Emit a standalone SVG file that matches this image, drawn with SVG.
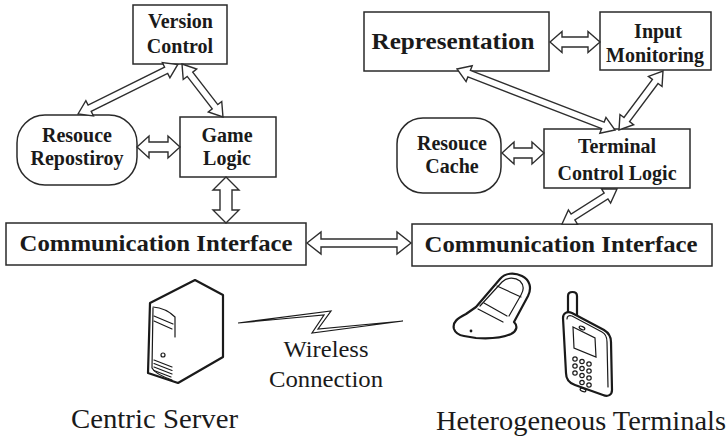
<svg xmlns="http://www.w3.org/2000/svg" width="728" height="438" viewBox="0 0 728 438">
  <style>
    .box { fill: #ffffff; stroke: #2a2a2a; stroke-width: 1.5; }
    .lbl { font-family: 'Liberation Serif', 'Times New Roman', serif; font-weight: bold; font-size: 20px; fill: #1a1a1a; text-anchor: middle; }
    .big { font-size: 24px; }
    .cap { font-family: 'Liberation Serif', 'Times New Roman', serif; font-size: 24px; fill: #1a1a1a; text-anchor: middle; }
    .title { font-size: 28px; }
    .dbl { fill: #ffffff; stroke: #2e2e2e; stroke-width: 1.4; stroke-linejoin: miter; }
    .ico { fill: #ffffff; stroke: #1a1a1a; stroke-width: 2.2; stroke-linejoin: round; stroke-linecap: round; }
    .thin { fill: none; stroke: #1a1a1a; stroke-width: 1.2; stroke-linecap: round; }
  </style>

  <rect width="728" height="438" fill="#ffffff"/>

  <!-- server side -->
  <g id="version-control">
    <rect class="box" x="133" y="5" width="94" height="59"/>
    <text class="lbl" x="180.5" y="28">Version</text>
    <text class="lbl" x="180" y="53">Control</text>
  </g>

  <g id="resource-repository">
    <rect class="box" x="17" y="115" width="120" height="70" rx="28" ry="28"/>
    <text class="lbl" x="77" y="142">Resouce</text>
    <text class="lbl" x="77" y="165">Repostiroy</text>
  </g>

  <g id="game-logic">
    <rect class="box" x="180" y="117" width="96" height="60"/>
    <text class="lbl" x="227" y="142">Game</text>
    <text class="lbl" x="227" y="165">Logic</text>
  </g>

  <g id="server-comm">
    <rect class="box" x="6" y="223" width="300" height="42"/>
    <text class="lbl big" x="156" y="251" textLength="273" lengthAdjust="spacingAndGlyphs">Communication Interface</text>
  </g>

  <!-- terminal side -->
  <g id="representation">
    <rect class="box" x="364" y="12" width="185" height="59"/>
    <text class="lbl big" x="453" y="49" textLength="163" lengthAdjust="spacingAndGlyphs">Representation</text>
  </g>

  <g id="input-monitoring">
    <rect class="box" x="600" y="12" width="111" height="58"/>
    <text class="lbl" x="658" y="38">Input</text>
    <text class="lbl" x="655" y="62">Monitoring</text>
  </g>

  <g id="resource-cache">
    <rect class="box" x="397" y="118" width="104" height="75" rx="26" ry="26"/>
    <text class="lbl" x="452" y="150">Resouce</text>
    <text class="lbl" x="452" y="173">Cache</text>
  </g>

  <g id="terminal-control-logic">
    <rect class="box" x="544" y="129" width="146" height="59"/>
    <text class="lbl" x="617" y="153">Terminal</text>
    <text class="lbl" x="617" y="180">Control Logic</text>
  </g>

  <g id="terminal-comm">
    <rect class="box" x="412" y="224" width="300" height="42"/>
    <text class="lbl big" x="561" y="252" textLength="273" lengthAdjust="spacingAndGlyphs">Communication Interface</text>
  </g>

  <!-- hollow double-headed connectors -->
  <g id="connectors">
    <!-- version control <-> resource repository -->
    <path class="dbl" transform="translate(78,114) rotate(-26.4)" d="M0,0 L13,-8.5 L13,-3.5 L98.4,-3.5 L98.4,-8.5 L111.4,0 L98.4,8.5 L98.4,3.5 L13,3.5 L13,8.5 Z"/>
    <!-- version control <-> game logic -->
    <path class="dbl" transform="translate(182,64) rotate(52.3)" d="M0,0 L13,-8.5 L13,-3.5 L54,-3.5 L54,-8.5 L67,0 L54,8.5 L54,3.5 L13,3.5 L13,8.5 Z"/>
    <!-- resource repository <-> game logic -->
    <path class="dbl" d="M137,147 L149,136 L149,142 L168,142 L168,136 L180,147 L168,158 L168,152 L149,152 L149,158 Z"/>
    <!-- game logic <-> communication interface -->
    <path class="dbl" d="M226,177 L239,190 L232,190 L232,210 L239,210 L226,223 L213,210 L220,210 L220,190 L213,190 Z"/>
    <!-- server interface <-> terminal interface -->
    <path class="dbl" d="M307,243 L321,232 L321,239 L397,239 L397,232 L411,243 L397,254 L397,247 L321,247 L321,254 Z"/>
    <!-- representation <-> input monitoring -->
    <path class="dbl" d="M550,42 L562,31.5 L562,37 L588,37 L588,31.5 L600,42 L588,52.5 L588,47 L562,47 L562,52.5 Z"/>
    <!-- resource cache <-> terminal control logic -->
    <path class="dbl" d="M502,153 L514,142 L514,148 L532,148 L532,142 L544,153 L532,164 L532,158 L514,158 L514,164 Z"/>
    <!-- representation <-> terminal control logic -->
    <path class="dbl" transform="translate(457,69) rotate(21.1)" d="M0,0 L13,-8.5 L13,-3.5 L156.4,-3.5 L156.4,-8.5 L169.4,0 L156.4,8.5 L156.4,3.5 L13,3.5 L13,8.5 Z"/>
    <!-- input monitoring <-> terminal control logic -->
    <path class="dbl" transform="translate(663,71) rotate(126.7)" d="M0,0 L13,-8.5 L13,-3.5 L60.6,-3.5 L60.6,-8.5 L73.6,0 L60.6,8.5 L60.6,3.5 L13,3.5 L13,8.5 Z"/>
    <!-- terminal control logic <-> communication interface -->
    <path class="dbl" transform="translate(617,189) rotate(147.5)" d="M0,0 L13,-8.5 L13,-3.5 L52.2,-3.5 L52.2,-8.5 L65.2,0 L52.2,8.5 L52.2,3.5 L13,3.5 L13,8.5 Z"/>
  </g>

  <!-- server tower -->
  <g id="server-icon">
    <path class="ico" d="M150,303 L195,280 L223,295 L223,357 L178,383 L148,373 Z"/>
    <path class="thin" d="M153,308 L152,368 Q155,374 172,380"/>
    <path class="thin" d="M153,307 Q166,308 175,317 L175,337"/>
    <path class="thin" stroke-width="1.8" d="M154,316 L173,324 M154,321 L172,329"/>
    <circle class="thin" cx="163" cy="355" r="2"/>
    <path class="thin" d="M154,360 L172,367 M154,363.5 L172,370.5 M154,367 L172,374 M154,370.5 L171,377"/>
  </g>

  <!-- wireless link -->
  <g id="wireless-link">
    <path fill="#ffffff" stroke="#1a1a1a" stroke-width="1.2" stroke-linejoin="miter" d="M238,323 L331,311 L318,329 L403,321 L312,333 L324,315 Z"/>
    <text class="cap" x="326" y="357" textLength="85" lengthAdjust="spacingAndGlyphs">Wireless</text>
    <text class="cap" x="326" y="387" textLength="114" lengthAdjust="spacingAndGlyphs">Connection</text>
  </g>

  <!-- clamshell phone -->
  <g id="flip-phone">
    <path class="ico" d="M454,329 C452,322 458,318 466,314 L476,307 L500,279 C505,273 514,272 522,276 C530,280 532,288 528,296 L514,322 C518,326 517,331 511,334 C502,338 490,339 476,338 L464,336 C458,335 455,332 454,329 Z"/>
    <path class="thin" d="M480,306 L502,282 C507,277 515,277 520,281 C524,285 524,290 521,295 L509,316"/>
    <path class="thin" d="M497,286 L521,297 M484,303 L507,316 M478,309 L503,322"/>
    <circle cx="471" cy="331" r="1.4" fill="#1a1a1a"/>
  </g>

  <!-- candy-bar phone -->
  <g id="bar-phone">
    <path class="ico" d="M568,315 L568,296 Q568,292 572.5,292 Q577,292 577,296 L577,316"/>
    <path class="ico" d="M563,318 C563,313 567,311 572,313 L604,330 C609,333 611,336 611,342 L612,390 C612,395 608,397 603,395 L575,385 C569,383 566,379 566,373 Z"/>
    <path class="thin" d="M567,319 C567,316 569,315 572,316 L602,332 C606,334 607,337 607,342 L608,387"/>
    <path class="thin" d="M573,327 L595,338 L596,357 L574,348 Z"/>
    <ellipse class="thin" cx="582" cy="328" rx="3" ry="1.5" transform="rotate(25 582 328)"/>
    <g class="thin">
      <circle cx="575" cy="359" r="2.2"/><circle cx="582" cy="361.5" r="2.2"/><circle cx="589" cy="364" r="2.2"/>
      <circle cx="575" cy="366" r="2.2"/><circle cx="582" cy="368.5" r="2.2"/><circle cx="589" cy="371" r="2.2"/>
      <circle cx="575" cy="373" r="2.2"/><circle cx="582" cy="375.5" r="2.2"/><circle cx="589" cy="378" r="2.2"/>
      <circle cx="582" cy="382.5" r="2.2"/><circle cx="589" cy="385" r="2.2"/>
    </g>
    <ellipse class="thin" cx="583" cy="390" rx="3" ry="1.5" transform="rotate(20 583 390)"/>
  </g>

  <text class="cap title" x="154.5" y="428" textLength="167" lengthAdjust="spacingAndGlyphs">Centric Server</text>
  <text class="cap title" x="581" y="430" textLength="290" lengthAdjust="spacingAndGlyphs">Heterogeneous Terminals</text>
</svg>
